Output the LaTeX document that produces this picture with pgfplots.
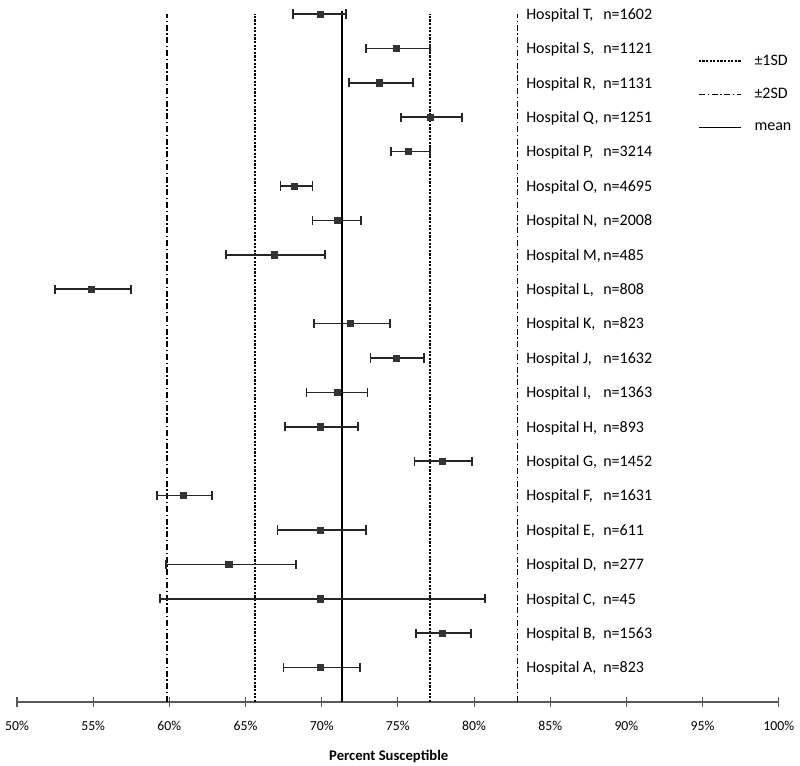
\documentclass[border=0pt]{standalone}
\usepackage{fontspec}
\setmainfont{Carlito}
\usepackage{pgfplots}
\pgfplotsset{compat=1.18}
\usepackage{pgfplotstable}

\pgfplotstableread{
y x lo hi
1 69.9 67.5 72.5
2 77.9 76.2 79.8
3 69.9 59.4 80.7
4 63.9 59.8 68.3
5 69.9 67.1 72.9
6 60.9 59.2 62.8
7 77.9 76.1 79.85
8 69.9 67.6 72.4
9 71.0 69.0 73.0
10 74.9 73.2 76.7
11 71.9 69.5 74.5
12 54.9 52.5 57.5
13 66.9 63.7 70.2
14 71.0 69.4 72.6
15 68.2 67.3 69.4
16 75.7 74.55 77.1
17 77.1 75.2 79.2
18 73.8 71.8 76.0
19 74.9 72.9 77.1
20 69.9 68.1 71.6
}\hosp

\begin{document}
\begin{tikzpicture}
\useasboundingbox (-12.75pt,-48pt) rectangle (587.25pt,526.5pt);
\begin{axis}[
  scale only axis, width=571.3pt, height=516pt,
  xmin=50, xmax=100, ymin=0, ymax=20,
  axis x line*=bottom, axis y line=none,
  xtick={50,55,...,100},
  xticklabel={\pgfmathprintnumber{\tick}\%},
  /pgf/number format/assume math mode=true,
  xtick align=center, major tick length=7pt,
  x axis line style={draw=black!65, line width=0.8pt},
  tick style={draw=black!65, line width=0.8pt},
  ticklabel style={font=\fontsize{10.3}{12}\selectfont},
  xticklabel style={yshift=-7pt},
  xlabel={Percent Susceptible},
  xlabel style={font=\fontsize{11}{13}\selectfont\bfseries, at={(axis description cs:0.488,0)}, anchor=center, yshift=-41pt},
  clip=false,
  legend style={at={(axis cs:94.7,17.69)}, anchor=west, draw=none, fill=none, inner sep=0pt,
    font=\fontsize{12}{14}\selectfont, row sep=12pt, nodes={inner sep=2pt}},
  legend cell align=left,
  legend image code/.code={\draw[#1, line width=0.9pt] (0pt,0pt) -- (31.5pt,0pt); \path (39pt,0pt);},
]
\addplot[black, line width=1.3pt, dash pattern=on 1.6pt off 1.1pt] coordinates {(65.6,0) (65.6,20)};
\addlegendentry{±1SD}
\addplot[black, line width=1.3pt, dash pattern=on 1.6pt off 1.1pt, forget plot] coordinates {(77.1,0) (77.1,20)};
\addplot[black, line width=1.3pt, dash pattern=on 4.5pt off 2pt on 1pt off 2pt] coordinates {(59.85,0) (59.85,20)};
\addlegendentry{±2SD}
\addplot[black, line width=1.3pt, dash pattern=on 4.5pt off 2pt on 1pt off 2pt, forget plot] coordinates {(82.85,0) (82.85,20)};
\addplot[black, line width=1.5pt] coordinates {(71.35,0) (71.35,20.1)};
\addlegendentry{mean}

\addplot[forget plot, only marks, mark=square*, mark size=2.3pt,
  mark options={fill=black!80, draw=black!80},
  error bars/.cd, x dir=both, x explicit,
  error bar style={line width=1.3pt, black!85},
  error mark options={line width=1.3pt, mark size=3.5pt, black!85, rotate=90}]
  table[x=x, y=y, x error plus expr=\thisrow{hi}-\thisrow{x}, x error minus expr=\thisrow{x}-\thisrow{lo}] {\hosp};

\begin{scope}[every node/.style={anchor=base west, inner sep=0pt, yshift=-4pt, font=\fontsize{12}{14}\selectfont}]
\node at (axis cs:83.41,20) {Hospital T,}; \node at (axis cs:88.47,20) {n=1602};
\node at (axis cs:83.41,19) {Hospital S,}; \node at (axis cs:88.47,19) {n=1121};
\node at (axis cs:83.41,18) {Hospital R,}; \node at (axis cs:88.47,18) {n=1131};
\node at (axis cs:83.41,17) {Hospital Q,}; \node at (axis cs:88.47,17) {n=1251};
\node at (axis cs:83.41,16) {Hospital P,}; \node at (axis cs:88.47,16) {n=3214};
\node at (axis cs:83.41,15) {Hospital O,}; \node at (axis cs:88.47,15) {n=4695};
\node at (axis cs:83.41,14) {Hospital N,}; \node at (axis cs:88.47,14) {n=2008};
\node at (axis cs:83.41,13) {Hospital M,}; \node at (axis cs:88.47,13) {n=485};
\node at (axis cs:83.41,12) {Hospital L,}; \node at (axis cs:88.47,12) {n=808};
\node at (axis cs:83.41,11) {Hospital K,}; \node at (axis cs:88.47,11) {n=823};
\node at (axis cs:83.41,10) {Hospital J,}; \node at (axis cs:88.47,10) {n=1632};
\node at (axis cs:83.41,9) {Hospital I,}; \node at (axis cs:88.47,9) {n=1363};
\node at (axis cs:83.41,8) {Hospital H,}; \node at (axis cs:88.47,8) {n=893};
\node at (axis cs:83.41,7) {Hospital G,}; \node at (axis cs:88.47,7) {n=1452};
\node at (axis cs:83.41,6) {Hospital F,}; \node at (axis cs:88.47,6) {n=1631};
\node at (axis cs:83.41,5) {Hospital E,}; \node at (axis cs:88.47,5) {n=611};
\node at (axis cs:83.41,4) {Hospital D,}; \node at (axis cs:88.47,4) {n=277};
\node at (axis cs:83.41,3) {Hospital C,}; \node at (axis cs:88.47,3) {n=45};
\node at (axis cs:83.41,2) {Hospital B,}; \node at (axis cs:88.47,2) {n=1563};
\node at (axis cs:83.41,1) {Hospital A,}; \node at (axis cs:88.47,1) {n=823};
\end{scope}
\end{axis}
\end{tikzpicture}
\end{document}
